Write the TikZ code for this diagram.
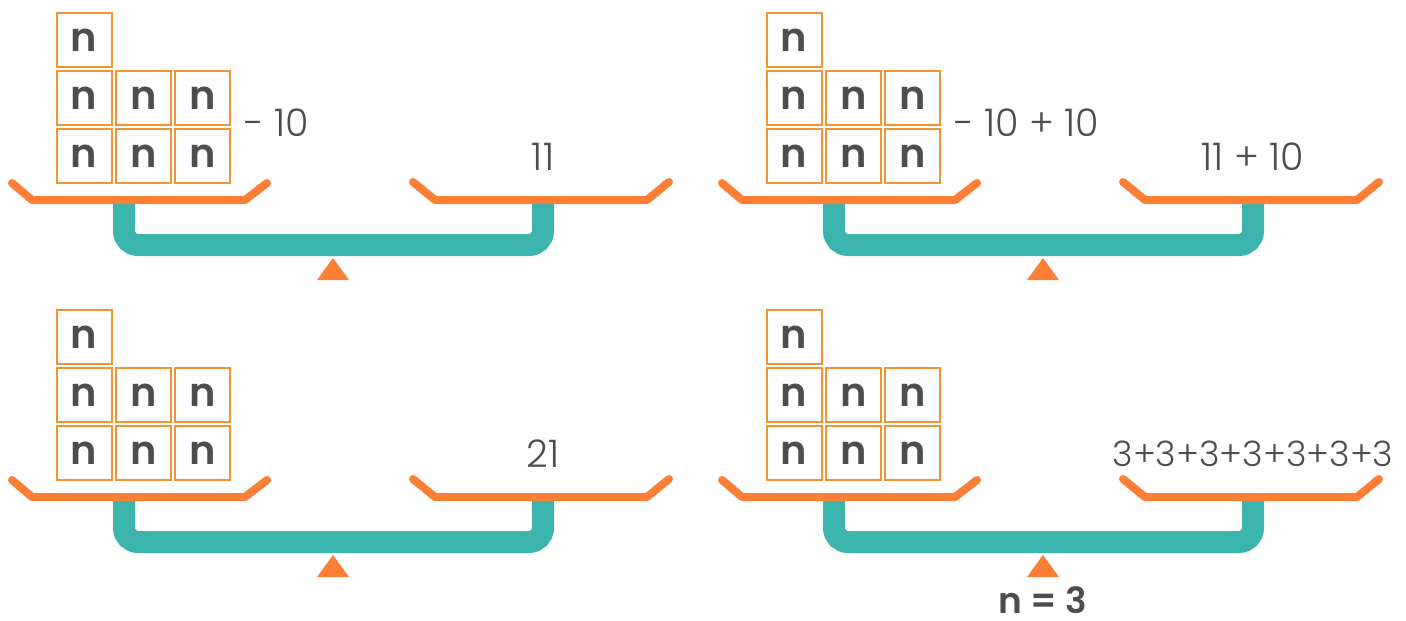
\documentclass[tikz,border=0pt]{standalone}
\usepackage{fontspec}
\setmainfont{Poppins}[UprightFont=* Light, BoldFont=* SemiBold]
\usetikzlibrary{positioning}
\definecolor{panorange}{HTML}{FD7E35}
\definecolor{boxorange}{HTML}{F39433}
\definecolor{beamteal}{HTML}{3CB4AE}
\definecolor{textgray}{HTML}{4D4D4D}
\tikzset{
  cell/.style={draw=boxorange, line width=2pt, minimum width=55pt,
    minimum height=54pt, inner sep=0pt, text=textgray,
    font=\fontsize{40}{40}\selectfont\bfseries},
  pan/.style={draw=panorange, line width=8pt, line cap=round, line join=round},
  beam/.style={draw=beamteal, line width=22pt, rounded corners=14pt},
  pivot/.style={fill=panorange},
  numlabel/.style={text=textgray, inner sep=0pt, font=\fontsize{38}{38}\selectfont},
}

\begin{document}
\begin{tikzpicture}[x=1pt, y=-1pt]
\useasboundingbox (0,0) rectangle (1406,621);
% four balances, same layout each time
\foreach \pn/\dx/\dy/\rtext in {a/0/0/11, b/710/0/{11 + 10}, c/0/297/21,
    d/710/297/{\fontsize{35}{35}\selectfont 3+3+3+3+3+3+3}}{
  \begin{scope}[shift={(\dx,\dy)}]
    \coordinate (\pn-lp) at (124,200);
    \coordinate (\pn-rp) at (543,200);
    \coordinate (\pn-pv) at (333,280);
    \draw[beam] (\pn-lp) -- ++(0,45) -| (\pn-rp);
    \draw[pan] (12,183) -- (32,200) -- (245,200) -- (267,183);
    \draw[pan] (413,182) -- (435,200) -- (647,200) -- (669,182);
    \fill[pivot] (\pn-pv) ++(-16,0) -- ++(32,0) -- ++(-16,-22) -- cycle;
    \foreach \c/\r in {0/0,0/1,1/1,2/1,0/2,1/2,2/2}
      \node[cell] (\pn-\c\r) at (84+59.3*\c, 40+58*\r) {n};
    \node[numlabel] (\pn-right) at (543,157) {\rtext};
  \end{scope}
}
\node[numlabel, right=13pt of a-21.south east, yshift=3pt] (a-left) {- 10};
\node[numlabel, right=13pt of b-21.south east, yshift=3pt] (b-left) {- 10 + 10};
\node[numlabel, font=\fontsize{36}{36}\selectfont\bfseries, below=9pt of d-pv] (answer) {n = 3};
\end{tikzpicture}
\end{document}
